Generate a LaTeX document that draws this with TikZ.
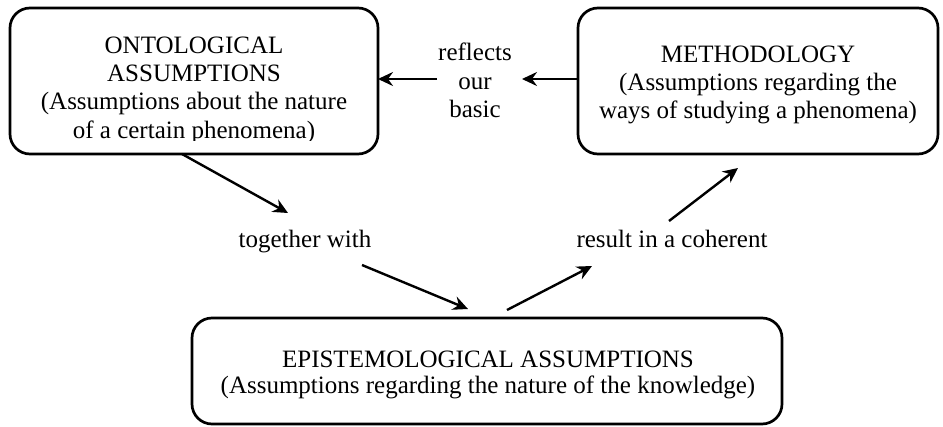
\documentclass[tikz,border=0pt]{standalone}
\usepackage{fontspec}
\setmainfont{Liberation Serif}
\usetikzlibrary{arrows.meta,calc}

\tikzset{
  box/.style={draw, line width=2.7pt, rounded corners=20pt, inner sep=0pt, outer sep=0pt},
  txt/.style={align=center, inner sep=0pt, font=\fontsize{25}{28.4}\selectfont},
  tighttxt/.style={txt, font=\fontsize{25}{26.5}\selectfont},
  arr/.style={line width=2.4pt, -{Stealth[length=15pt,width=14pt,inset=5pt]}}
}

\begin{document}
\begin{tikzpicture}[x=1pt,y=-1pt]
  \useasboundingbox (0,0) rectangle (943,426);

  % the three assumption boxes
  \node[box, minimum width=368pt, minimum height=146pt] (onto) at (194,81) {};
  \node[box, minimum width=360pt, minimum height=146pt] (meth) at (758,81) {};
  \node[box, minimum width=590pt, minimum height=106pt] (epis) at (487,371) {};

  % box texts (the ontology text is cut off at the bottom)
  \begin{scope}
    \clip (12,10) rectangle (376,140);
    \node[txt] (ontotext) at (194,90)
      {ONTOLOGICAL\\ASSUMPTIONS\\(Assumptions about the nature\\of a certain phenomena)};
  \end{scope}
  \node[txt] (methtext) at (758,85)
    {METHODOLOGY\\(Assumptions regarding the\\ways of studying a phenomena)};
  \node[tighttxt] (epistext) at (488,375)
    {EPISTEMOLOGICAL ASSUMPTIONS\\(Assumptions regarding the nature of the knowledge)};

  % connecting phrases
  \node[txt] (reflects) at (475,80.5) {reflects\\our\\basic};
  \node[txt, anchor=base] (together) at (305,247) {together with};
  \node[txt, anchor=base] (result) at (672,247) {result in a coherent};

  % free ends of the connectors
  \coordinate (togin)  at (288,213);
  \coordinate (togout) at (362,265);
  \coordinate (resin)  at (592,266);
  \coordinate (resout) at (669,221);
  \coordinate (refin)  at (522,79);
  \coordinate (refout) at (437,79);

  % connectors
  \draw[arr] ([xshift=-12pt]onto.south) -- (togin);
  \draw[arr] (togout) -- ([xshift=-19pt,yshift=9pt]epis.north);
  \draw[arr] ([xshift=20pt,yshift=8pt]epis.north) -- (resin);
  \draw[arr] (resout) -- ([xshift=-20pt,yshift=-14pt]meth.south);
  \draw[arr] ([yshift=2pt]meth.west) -- (refin);
  \draw[arr] (refout) -- ([yshift=2pt]onto.east);
\end{tikzpicture}
\end{document}
